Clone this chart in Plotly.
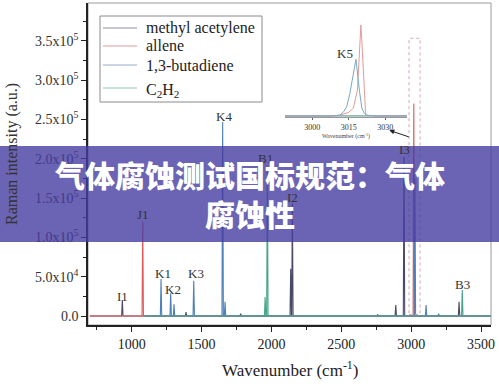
import plotly.graph_objects as go

# ---------------- data ----------------
# main spectrum peaks: wavenumber (cm-1) and Raman intensity (a.u.)
methyl_pos = [933, 1389, 1780, 2138, 2150, 2760, 2890, 2949, 3343]
methyl_int = [20300, 5000, 3000, 60000, 143000, 2000, 14000, 202000, 18000]
allene_pos = [1079, 3019]
allene_int = [119700, 270000]
butadiene_pos = [1210, 1279, 1303, 1444, 1651, 1668, 3027, 3107, 3197]
butadiene_int = [47000, 29000, 15000, 44800, 246600, 18000, 175000, 14000, 3000]
c2h2_pos = [1955, 1971, 3366]
c2h2_int = [24000, 190000, 33000]

series_names = ["methyl acetylene", "allene", "1,3-butadiene", "C<sub>2</sub>H<sub>2</sub>"]

# peak labels
label_text = ["I1", "J1", "K1", "K2", "K3", "K4", "B1", "I2", "I3", "B3"]
label_x = [933, 1079, 1224, 1298, 1460, 1661, 1960, 2152, 2949, 3365]
label_y = [25400, 129400, 54600, 34300, 54600, 253000, 200000, 151000, 212000, 40600]

# inset (3000-3030 cm-1 zoom), normalised intensity
inset_k5_x = [2988.8, 3008, 3011.4, 3013.0, 3014.2, 3015.5, 3016.8, 3018.0, 3019.4, 3020.4, 3021.4, 3022.4, 3026, 3039]
inset_k5_y = [0.01, 0.01, 0.02, 0.06, 0.112, 0.258, 0.45, 0.627, 0.293, 0.098, 0.04, 0.02, 0.01, 0.01]
inset_j2_x = [2988.8, 3008, 3011.4, 3015.0, 3016.9, 3018.6, 3019.7, 3020.0, 3020.4, 3021.3, 3022.0, 3026, 3039]
inset_j2_y = [0.01, 0.01, 0.02, 0.05, 0.095, 0.293, 0.837, 1.0, 0.837, 0.293, 0.02, 0.01, 0.01]
inset_base_x = [2988.8, 3039]
inset_base_y = [0.012, 0.012]
inset_ticks = [3000, 3015, 3030]

y_tickvals = [0, 50000, 100000, 150000, 200000, 250000, 300000, 350000]
y_ticktext = ["0.0", "5.0x10<sup>4</sup>", "1.0x10<sup>5</sup>", "1.5x10<sup>5</sup>",
              "2.0x10<sup>5</sup>", "2.5x10<sup>5</sup>", "3.0x10<sup>5</sup>", "3.5x10<sup>5</sup>"]
x_tickvals = [1000, 1500, 2000, 2500, 3000, 3500]

banner_text = "气体腐蚀测试国标规范：气体<br>腐蚀性"

# ---------------- styling ----------------
COLORS = ["#4a4a68", "#e05a5a", "#4d7fb8", "#45a58a"]
LEGEND_COLORS = ["#8c8cb0", "#dc9c9c", "#98aed0", "#92c6b8"]
SERIF = "Liberation Serif"
HW = 5  # half width of a drawn spike (cm-1)


def spectrum(pos, ints, start, end):
    xs, ys = [start], [0]
    for p, h in zip(pos, ints):
        xs += [p - HW, p, p + HW]
        ys += [0, h, 0]
    xs.append(end)
    ys.append(0)
    return xs, ys


fig = go.Figure()
series = [(methyl_pos, methyl_int, 700), (allene_pos, allene_int, 700),
          (butadiene_pos, butadiene_int, 1090), (c2h2_pos, c2h2_int, 1090)]
for name, (pos, ints, start), col in zip(series_names, series, COLORS):
    xs, ys = spectrum(pos, ints, start, 3570)
    fig.add_trace(go.Scatter(x=xs, y=ys, mode="lines", name=name, showlegend=False,
                             line=dict(color=col, width=1.1), xaxis="x", yaxis="y"))

# inset traces
fig.add_trace(go.Scatter(x=inset_base_x, y=inset_base_y, mode="lines", showlegend=False,
                         line=dict(color="#888899", width=1), xaxis="x2", yaxis="y2"))
fig.add_trace(go.Scatter(x=inset_base_x, y=inset_base_y, mode="lines", showlegend=False,
                         line=dict(color="#7fbfaa", width=1), xaxis="x2", yaxis="y2"))
fig.add_trace(go.Scatter(x=inset_j2_x, y=inset_j2_y, mode="lines", showlegend=False,
                         line=dict(color="#e49a9a", width=1), xaxis="x2", yaxis="y2"))
fig.add_trace(go.Scatter(x=inset_k5_x, y=inset_k5_y, mode="lines", showlegend=False,
                         line=dict(color="#79a9c6", width=1), xaxis="x2", yaxis="y2"))


def px_x(px):
    return (px - 88) / 403


def px_y(py):
    return (325 - py) / 322


annotations = []
shapes = [
    dict(type="rect", xref="paper", yref="paper", x0=0, x1=1, y0=0, y1=1,
         line=dict(color="#9a9a9a", width=1), layer="below"),
]

# legend (drawn by hand so the rows match)
shapes.append(dict(type="rect", xref="paper", yref="paper", x0=px_x(100), x1=px_x(262),
                   y0=px_y(102), y1=px_y(16), line=dict(color="#8a8a8a", width=1),
                   fillcolor="white", layer="above"))
legend_rows = [28, 46, 65, 88]
for name, col, row in zip(series_names, LEGEND_COLORS, legend_rows):
    shapes.append(dict(type="line", xref="paper", yref="paper", x0=px_x(103), x1=px_x(137),
                       y0=px_y(row), y1=px_y(row), line=dict(color=col, width=1.2), layer="above"))
    yoff = 3 if "sub" in name else 0
    annotations.append(dict(x=px_x(144), y=px_y(row + yoff), xref="paper", yref="paper", text=name,
                            showarrow=False, xanchor="left", yanchor="middle",
                            font=dict(family=SERIF, size=16, color="#222")))

for t, x, y in zip(label_text, label_x, label_y):
    annotations.append(dict(x=x, y=y, xref="x", yref="y", text=t, showarrow=False,
                            font=dict(family=SERIF, size=13, color="#333"),
                            xanchor="center", yanchor="middle"))
# inset labels
annotations.append(dict(x=3019.7, y=1.076, xref="x2", yref="y2", text="J2", showarrow=False,
                        xanchor="center", yanchor="middle",
                        font=dict(family=SERIF, size=13, color="#333")))
annotations.append(dict(x=3013.5, y=0.692, xref="x2", yref="y2", text="K5", showarrow=False,
                        xanchor="center", yanchor="middle",
                        font=dict(family=SERIF, size=13, color="#333")))
# arrow from the dashed box to the inset
annotations.append(dict(x=2844, y=236000, xref="x", yref="y", ax=21, ay=7, text="",
                        showarrow=True, arrowhead=2, arrowsize=1, arrowwidth=1, arrowcolor="#222"))
# axis titles
annotations.append(dict(x=px_x(12), y=px_y(154), xref="paper", yref="paper", text="Raman intensity (a.u.)",
                        textangle=-90, showarrow=False, xanchor="center", yanchor="middle",
                        font=dict(family=SERIF, size=16, color="#333")))
annotations.append(dict(x=px_x(289.5), y=px_y(369), xref="paper", yref="paper",
                        text="Wavenumber (cm<sup>-1</sup>)", xanchor="center", yanchor="middle",
                        showarrow=False, font=dict(family=SERIF, size=17, color="#222")))
# banner text
annotations.append(dict(x=px_x(250), y=px_y(193.5), xref="paper", yref="paper", text=banner_text,
                        showarrow=False, align="center", xanchor="center", yanchor="middle",
                        font=dict(family="Noto Sans CJK SC", size=30, color="white", weight=900)))

shapes += [
    dict(type="rect", xref="x", yref="y", x0=2985, x1=3064, y0=2000, y1=353000,
         line=dict(color="#d4a8a8", width=1, dash="dot"), layer="above"),
    dict(type="rect", xref="paper", yref="paper", x0=px_x(0), x1=px_x(499), y0=px_y(242), y1=px_y(146),
         fillcolor="rgba(70,60,160,0.8)", line=dict(width=0), layer="above"),
]

fig.update_layout(
    width=499, height=388,
    margin=dict(l=88, r=8, t=3, b=63, autoexpand=False),
    paper_bgcolor="white", plot_bgcolor="white",
    showlegend=False,
    xaxis=dict(range=[687.2, 3571.6], tickvals=x_tickvals, showgrid=False, zeroline=False,
               showline=True, linecolor="#222", linewidth=1.5, ticks="outside", ticklen=5,
               tickcolor="#222", tickfont=dict(family=SERIF, size=14, color="#222"),
               minor=dict(tickmode="linear", tick0=750, dtick=500, ticks="outside", ticklen=3,
                          tickcolor="#222"),
               domain=[0, 1], anchor="y", automargin=False),
    yaxis=dict(range=[-11440, 397900], tickvals=y_tickvals, ticktext=y_ticktext, showgrid=False,
               zeroline=False, showline=True, linecolor="#222", linewidth=1.5, ticks="outside",
               ticklen=5, tickcolor="#222", tickfont=dict(family=SERIF, size=14, color="#333"),
               minor=dict(tickmode="linear", tick0=25000, dtick=50000, ticks="outside", ticklen=3,
                          tickcolor="#222"),
               domain=[0, 1], anchor="x", automargin=False),
    xaxis2=dict(domain=[0.4888, 0.7916], range=[2988.8, 3039], anchor="y2", tickvals=inset_ticks,
                showgrid=False, zeroline=False, showline=True, linecolor="#999", linewidth=1,
                ticks="outside", ticklen=2, tickcolor="#666", automargin=False,
                tickfont=dict(family=SERIF, size=8, color="#333"),
                title=dict(text="Wavenumber (cm<sup>-1</sup>)", standoff=2,
                           font=dict(family=SERIF, size=6, color="#444"))),
    yaxis2=dict(domain=[0.646, 0.95], range=[0, 1.065], anchor="x2", visible=False),
    annotations=annotations,
    shapes=shapes,
)

fig.write_html("out.html", config={"displayModeBar": False},
               post_script="document.body.style.margin='0';document.body.style.padding='0';")
